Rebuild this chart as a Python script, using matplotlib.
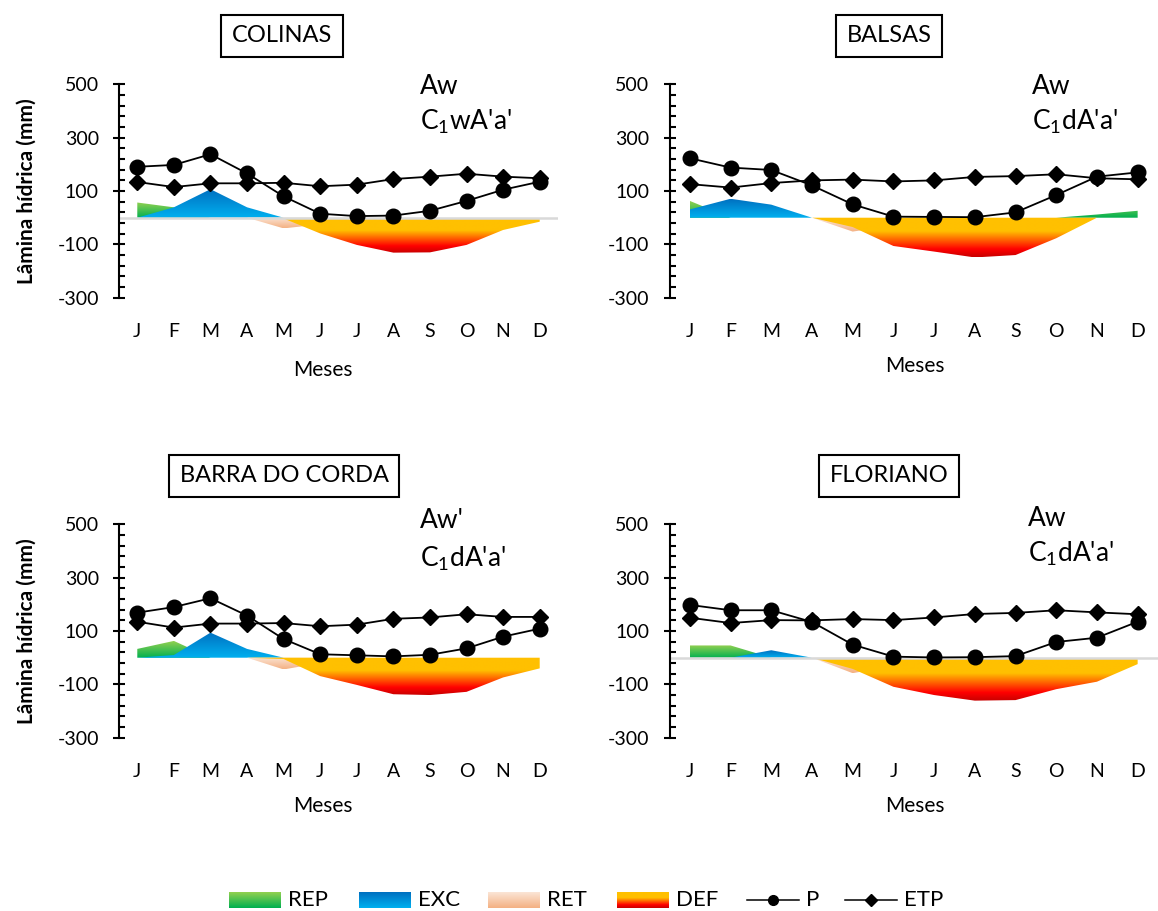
import numpy as np
import matplotlib.pyplot as plt
from matplotlib.colors import LinearSegmentedColormap
from matplotlib.patches import Polygon

plt.rcParams['font.family'] = ['Lato', 'DejaVu Sans']
plt.rcParams['mathtext.default'] = 'regular'
plt.rcParams['axes.unicode_minus'] = False

# ---- data (mm) ----
months = ['J', 'F', 'M', 'A', 'M', 'J', 'J', 'A', 'S', 'O', 'N', 'D']
stations = ['COLINAS', 'BALSAS', 'BARRA DO CORDA', 'FLORIANO']
koppen = ['Aw', 'Aw', "Aw'", 'Aw']
thornthwaite = ["C$_1$wA'a'", "C$_1$dA'a'", "C$_1$dA'a'", "C$_1$dA'a'"]

p_colinas = [191, 198, 238, 166, 80, 15, 6, 8, 26, 63, 105, 135]
etp_colinas = [134, 115, 129, 129, 131, 118, 124, 145, 154, 165, 154, 148]
rep_colinas = [57, 39, 0, 0, 0, 0, 0, 0, 0, 0, 0, 0]
exc_colinas = [0, 39, 107, 39, 0, 0, 0, 0, 0, 0, 0, 0]
ret_colinas = [0, 0, 0, 0, -40, -25, 0, 0, 0, 0, 0, 0]
def_colinas = [0, 0, 0, 0, -3, -59, -102, -131, -130, -102, -46, -15]

p_balsas = [223, 188, 179, 121, 50, 4, 3, 2, 20, 85, 154, 170]
etp_balsas = [126, 113, 130, 140, 143, 136, 140, 153, 156, 163, 148, 144]
rep_balsas = [63, 0, 0, 0, 0, 0, 0, 0, 0, 0, 12, 26]
exc_balsas = [31, 71, 49, 0, 0, 0, 0, 0, 0, 0, 0, 0]
ret_balsas = [0, 0, 0, 0, -52, -30, 0, 0, 0, 0, 0, 0]
def_balsas = [0, 0, 0, 0, -35, -106, -127, -149, -140, -77, 0, 0]

p_barra = [169, 190, 223, 158, 70, 13, 9, 5, 11, 35, 79, 109]
etp_barra = [135, 113, 128, 128, 130, 118, 124, 146, 151, 163, 153, 153]
rep_barra = [33, 63, 0, 0, 0, 0, 0, 0, 0, 0, 0, 0]
exc_barra = [0, 10, 94, 33, 0, 0, 0, 0, 0, 0, 0, 0]
ret_barra = [0, 0, 0, 0, -44, -20, 0, 0, 0, 0, 0, 0]
def_barra = [0, 0, 0, 0, -5, -69, -102, -137, -140, -128, -74, -40]

p_floriano = [198, 178, 178, 134, 49, 4, 1, 2, 6, 59, 75, 135]
etp_floriano = [150, 130, 141, 140, 145, 141, 151, 164, 168, 178, 170, 163]
rep_floriano = [46, 46, 0, 0, 0, 0, 0, 0, 0, 0, 0, 0]
exc_floriano = [0, 0, 28, 0, 0, 0, 0, 0, 0, 0, 0, 0]
ret_floriano = [0, 0, 0, 0, -58, -30, 0, 0, 0, 0, 0, 0]
def_floriano = [0, 0, 0, 0, -42, -109, -140, -161, -159, -118, -90, -24]

P = [p_colinas, p_balsas, p_barra, p_floriano]
ETP = [etp_colinas, etp_balsas, etp_barra, etp_floriano]
REP = [rep_colinas, rep_balsas, rep_barra, rep_floriano]
EXC = [exc_colinas, exc_balsas, exc_barra, exc_floriano]
RET = [ret_colinas, ret_balsas, ret_barra, ret_floriano]
DEF = [def_colinas, def_balsas, def_barra, def_floriano]

# gradient stops, listed bottom -> top
rep_stops = ['#00B050', '#92D050']
exc_stops = ['#00B0F0', '#0070C0']
ret_stops = ['#F4B183', '#FBE5D6']
def_stops = [(0, '#C80000'), (0.2, '#FF0000'), (0.65, '#FFC000'), (1, '#FFC000')]

W, H = 1158, 911
fig = plt.figure(figsize=(W / 100, H / 100), dpi=100)


def px_axes(left, top, right, bottom):
    return fig.add_axes([left / W, 1 - bottom / H, (right - left) / W, (bottom - top) / H])


def grad_area(ax, x, y, stops, z):
    x = list(x)
    verts = [(x[0], 0)] + list(zip(x, y)) + [(x[-1], 0)]
    lo, hi = min(0, min(y)), max(0, max(y))
    if hi == lo:
        return
    poly = Polygon(verts, closed=True, facecolor='none', edgecolor='none')
    ax.add_patch(poly)
    cmap = LinearSegmentedColormap.from_list('g', stops)
    grad = np.linspace(0, 1, 256).reshape(-1, 1)
    im = ax.imshow(grad, cmap=cmap, aspect='auto', origin='lower',
                   extent=(x[0], x[-1], lo, hi), zorder=z, interpolation='bilinear')
    im.set_clip_path(poly)


# panel layout in pixels: axes box, title centre, text anchors
layout = [
    dict(box=(119, 84.4, 558, 297.7), title=(282, 36), cls=(420, 86, 122), ylab=True, zero=True, meses=(323, 370)),
    dict(box=(669.5, 84.4, 1158, 297.7), title=(889, 36), cls=(1032, 86, 122), ylab=False, zero=False, meses=(915, 366)),
    dict(box=(119, 524.4, 558, 737.7), title=(284, 476), cls=(420, 521, 559), ylab=True, zero=False, meses=(323, 806)),
    dict(box=(669.5, 524.4, 1158, 737.7), title=(889, 476), cls=(1028, 518, 554), ylab=False, zero=True, meses=(915, 806)),
]

x = np.arange(12)
for i, lay in enumerate(layout):
    ax = px_axes(*lay['box'])
    grad_area(ax, x, REP[i], rep_stops, 1.0)
    grad_area(ax, x, EXC[i], exc_stops, 1.1)
    grad_area(ax, x, RET[i], ret_stops, 1.2)
    grad_area(ax, x, DEF[i], def_stops, 1.3)
    if lay['zero']:
        ax.axhline(0, color='#D9D9D9', lw=1.8, zorder=1.5)
    ax.plot(x, ETP[i], color='black', lw=1.3, marker='D', ms=8, zorder=3)
    ax.plot(x, P[i], color='black', lw=1.3, marker='o', ms=10.5, zorder=3.1)

    ax.set_xlim(-0.5, 11.5)
    ax.set_ylim(-300, 500)
    ax.set_xticks(x)
    ax.set_xticklabels(months, fontsize=14)
    ax.tick_params(axis='x', length=0, pad=18)
    ax.set_yticks([-300, -100, 100, 300, 500])
    ax.set_yticks(np.arange(-300, 501, 40), minor=True)
    ax.tick_params(axis='y', which='major', direction='inout', length=9, width=1.5, labelsize=14, pad=10)
    ax.tick_params(axis='y', which='minor', direction='in', length=4, width=1.5)
    for s in ['top', 'right', 'bottom']:
        ax.spines[s].set_visible(False)
    ax.spines['left'].set_linewidth(1.5)
    ax.patch.set_alpha(0)

    tx, ty = lay['title']
    fig.text(tx / W, 1 - ty / H, stations[i], fontsize=17, ha='center', va='center',
             bbox=dict(boxstyle='square,pad=0.45', fc='white', ec='black', lw=1.5))
    cx, cy1, cy2 = lay['cls']
    fig.text(cx / W, 1 - cy1 / H, koppen[i], fontsize=19, ha='left', va='center')
    fig.text(cx / W, 1 - cy2 / H, thornthwaite[i], fontsize=19, ha='left', va='center')
    mx, my = lay['meses']
    fig.text(mx / W, 1 - my / H, 'Meses', fontsize=15, ha='center', va='center')
    if lay['ylab']:
        yc = (lay['box'][1] + lay['box'][3]) / 2
        fig.text(27 / W, 1 - yc / H, 'Lâmina hídrica (mm)', fontsize=15, fontweight='bold',
                 rotation=90, ha='center', va='center')

# ---- legend drawn in pixel space ----
lg = fig.add_axes([0, 0, 1, 1], zorder=-1)
lg.set_xlim(0, W)
lg.set_ylim(H, 0)
lg.axis('off')
legend_items = [('REP', rep_stops, 229), ('EXC', exc_stops, 359), ('RET', ret_stops, 488), ('DEF', def_stops, 617)]
for name, stops, x0 in legend_items:
    cmap = LinearSegmentedColormap.from_list('g', stops)
    lg.imshow(np.linspace(0, 1, 64).reshape(-1, 1), cmap=cmap, aspect='auto', origin='lower',
              extent=(x0, x0 + 52, 908, 892), interpolation='bilinear')
    lg.text(x0 + 59, 900, name, fontsize=16, ha='left', va='center')
for name, mk, ms, x0 in [('P', 'o', 7, 747), ('ETP', 'D', 6, 845)]:
    lg.plot([x0, x0 + 52], [900, 900], color='black', lw=1.1)
    lg.plot([x0 + 26], [900], color='black', marker=mk, ms=ms)
    lg.text(x0 + 59, 900, name, fontsize=16, ha='left', va='center')
lg.set_xlim(0, W)
lg.set_ylim(H, 0)

fig.savefig('out.png', dpi=100)
